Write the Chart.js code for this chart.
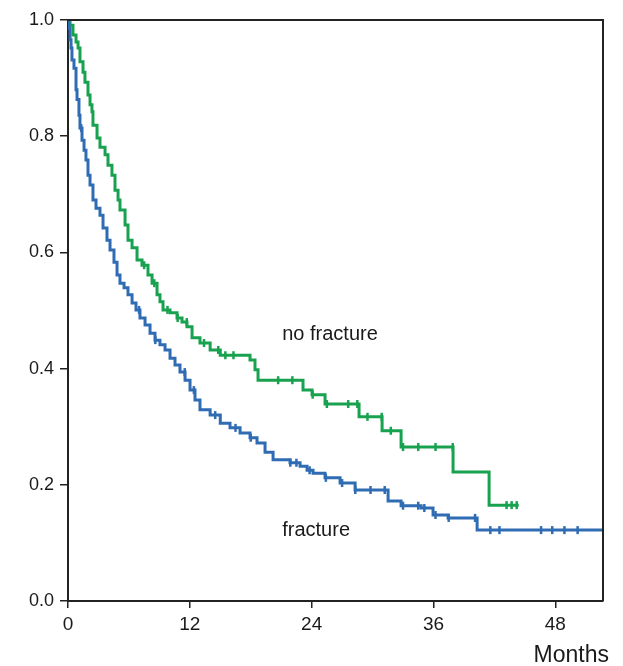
<!doctype html>
<html lang="en">
<head>
<meta charset="utf-8">
<title>Survival by fracture status</title>
<script src="https://cdn.jsdelivr.net/npm/chart.js@4"></script>
<style>
  html, body { margin: 0; padding: 0; background: #fff; }
  #wrap { width: 623px; height: 666px; }
</style>
</head>
<body>
<div id="wrap"><canvas id="km" width="623" height="666"></canvas></div>
<script>
// Kaplan–Meier steps: event time (months) -> survival after it.
const noFractureTimes = [0, 0.2, 0.49, 0.79, 0.99, 1.18, 1.48, 1.67, 1.97, 2.17, 2.36, 2.46, 2.86, 3.15, 3.65, 3.94,
  4.33, 4.63, 4.93, 5.12, 5.62, 5.91, 6.31, 6.8, 7.29, 7.88, 8.28, 8.77, 9.06, 9.36, 10.05, 10.74, 11.23, 11.72,
  12.22, 13.0, 14.0, 15.0, 17.93, 18.42, 18.72, 23.15, 24.04, 25.32, 28.67, 30.94, 32.81, 37.93, 41.48];
const noFractureSurv = [1.0, 0.991, 0.974, 0.962, 0.952, 0.928, 0.91, 0.893, 0.871, 0.854, 0.842, 0.819, 0.797, 0.781, 0.768, 0.75,
  0.733, 0.707, 0.69, 0.673, 0.647, 0.621, 0.608, 0.587, 0.578, 0.561, 0.547, 0.527, 0.515, 0.501, 0.496, 0.487, 0.48, 0.472,
  0.453, 0.444, 0.432, 0.423, 0.415, 0.398, 0.38, 0.363, 0.355, 0.339, 0.317, 0.293, 0.265, 0.222, 0.165];
const noFractureEnd = 44.4;
const noFractureCensor = [7.5, 8.5, 9.8, 10.8, 11.7, 13.4, 14.8, 15.5, 16.3, 20.7, 22.1, 24.1, 25.5, 27.6, 28.5,
  29.5, 30.9, 31.8, 33.0, 34.5, 36.2, 37.9, 43.2, 43.7, 44.2];

const fractureTimes = [0, 0.1, 0.2, 0.3, 0.39, 0.59, 0.79, 0.89, 1.08, 1.18, 1.38, 1.58, 1.77, 1.97, 2.17, 2.46, 2.76,
  3.15, 3.45, 3.84, 4.14, 4.53, 4.83, 5.12, 5.52, 5.91, 6.31, 6.7, 7.09, 7.59, 8.08, 8.57, 9.06, 9.56, 10.05, 10.54,
  11.03, 11.53, 12.02, 12.51, 13.0, 14.0, 15.0, 15.96, 16.95, 17.93, 18.62, 19.41, 20.2, 21.87, 22.86, 23.55, 24.14,
  25.32, 26.8, 28.28, 31.53, 32.81, 34.78, 35.96, 37.44, 40.3];
const fractureSurv = [1.0, 0.986, 0.966, 0.952, 0.931, 0.917, 0.88, 0.863, 0.836, 0.814, 0.793, 0.776, 0.759, 0.733, 0.716,
  0.69, 0.676, 0.664, 0.642, 0.621, 0.604, 0.583, 0.561, 0.547, 0.539, 0.527, 0.513, 0.501, 0.487, 0.475, 0.461, 0.449,
  0.441, 0.432, 0.418, 0.406, 0.394, 0.38, 0.363, 0.346, 0.329, 0.32, 0.306, 0.298, 0.289, 0.281, 0.272, 0.256, 0.243,
  0.238, 0.232, 0.225, 0.22, 0.212, 0.203, 0.191, 0.172, 0.164, 0.16, 0.148, 0.143, 0.122];
const fractureEnd = 52.7;
const fractureCensor = [1.3, 7.0, 8.6, 11.5, 12.4, 14.5, 16.5, 18.0, 21.9, 22.5, 23.8, 25.4, 27.0, 28.3, 29.8, 31.2,
  33.0, 34.5, 35.1, 36.2, 37.5, 40.1, 41.6, 42.5, 46.6, 47.7, 48.9, 50.2];

const xTicks = [0, 12, 24, 36, 48];
const yTicks = [0, 0.2, 0.4, 0.6, 0.8, 1.0];
const xMax = 52.7;

const GREEN = '#18a24f';
const BLUE = '#2f6cb3';
const INK = '#222';
const FONT = "'Liberation Sans', Arial, sans-serif";

// step curve points, closing at the last follow-up time
function steps(times, surv, end) {
  const pts = times.map((t, i) => ({ x: t, y: surv[i] }));
  pts.push({ x: end, y: surv[surv.length - 1] });
  return pts;
}
// survival value in force at time t
function survAt(times, surv, t) {
  let v = surv[0];
  for (let i = 0; i < times.length; i++) if (times[i] <= t) v = surv[i];
  return v;
}
function censorPts(cens, times, surv) {
  return cens.map((t) => ({ x: t, y: survAt(times, surv, t) }));
}

function kmLine(data, color) {
  return { type: 'line', data, borderColor: color, borderWidth: 3, stepped: true, pointRadius: 0, fill: false, order: 2 };
}
function ticksSet(data, color) {
  return { type: 'scatter', data, borderColor: color, backgroundColor: color, pointStyle: 'line',
    rotation: 90, pointRadius: 4, borderWidth: 2.5, order: 1 };
}

// рамка сверху/справа и подписи кривых
const decor = {
  id: 'decor',
  afterDraw(chart) {
    const { ctx, chartArea: a, scales: { x, y } } = chart;
    ctx.save();
    ctx.strokeStyle = INK;
    ctx.lineWidth = 2;
    ctx.beginPath();
    ctx.moveTo(a.left, a.top);
    ctx.lineTo(a.right, a.top);
    ctx.lineTo(a.right, a.bottom);
    ctx.stroke();
    ctx.fillStyle = '#1a1a1a';
    ctx.font = '20px ' + FONT;
    ctx.textBaseline = 'middle';
    ctx.fillText('no fracture', x.getPixelForValue(21.1), y.getPixelForValue(0.458));
    ctx.fillText('fracture', x.getPixelForValue(21.1), y.getPixelForValue(0.122));
    ctx.font = '23px ' + FONT;
    ctx.textAlign = 'right';
    ctx.textBaseline = 'alphabetic';
    ctx.fillText('Months', a.right + 6, 662);
    ctx.restore();
  },
};

new Chart(document.getElementById('km'), {
  data: {
    datasets: [
      kmLine(steps(fractureTimes, fractureSurv, fractureEnd), BLUE),
      kmLine(steps(noFractureTimes, noFractureSurv, noFractureEnd), GREEN),
      ticksSet(censorPts(fractureCensor, fractureTimes, fractureSurv), BLUE),
      ticksSet(censorPts(noFractureCensor, noFractureTimes, noFractureSurv), GREEN),
    ],
  },
  options: {
    responsive: false,
    animation: false,
    devicePixelRatio: 1,
    layout: { padding: { top: 20, right: 20, left: 0, bottom: 0 } },
    plugins: { legend: { display: false }, tooltip: { enabled: false } },
    scales: {
      x: {
        type: 'linear', min: 0, max: xMax,
        afterBuildTicks: (s) => { s.ticks = xTicks.map((v) => ({ value: v })); },
        afterFit: (s) => { s.height = 65; },
        grid: { drawOnChartArea: false, tickLength: 7, color: INK, lineWidth: 1.5 },
        border: { color: INK, width: 2 },
        ticks: { color: '#1a1a1a', font: { family: FONT, size: 19 }, padding: 5, maxRotation: 0 },
      },
      y: {
        type: 'linear', min: 0, max: 1,
        afterBuildTicks: (s) => { s.ticks = yTicks.map((v) => ({ value: v })); },
        afterFit: (s) => { s.width = 68; },
        grid: { drawOnChartArea: false, tickLength: 8, color: INK, lineWidth: 1.5 },
        border: { color: INK, width: 2 },
        ticks: { color: '#1a1a1a', font: { family: FONT, size: 18 }, padding: 6, callback: (v) => v.toFixed(1) },
      },
    },
  },
  plugins: [decor],
});
</script>
</body>
</html>
